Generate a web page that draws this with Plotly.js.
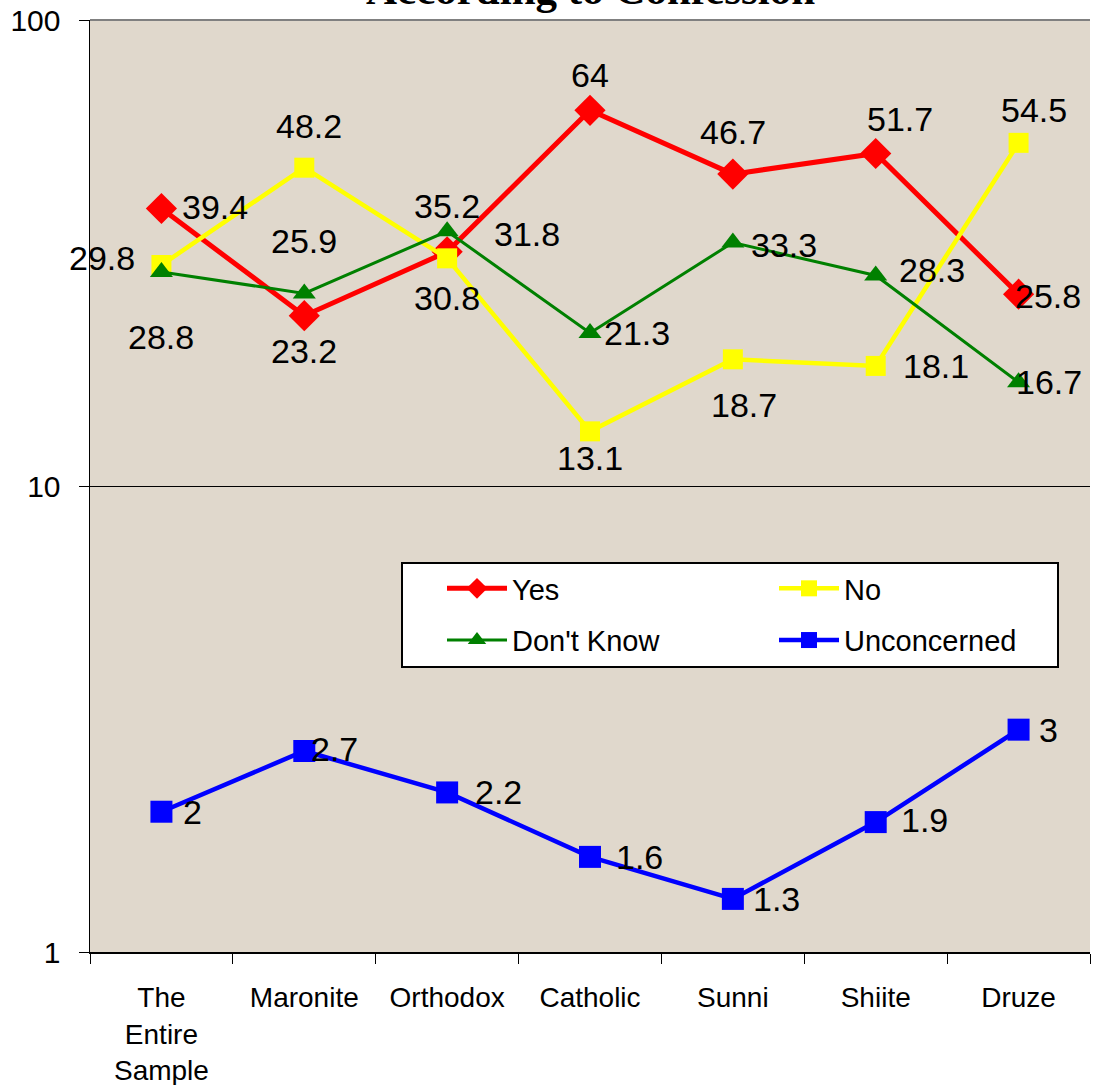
<!DOCTYPE html>
<html>
<head>
<meta charset="utf-8">
<script src="https://cdn.plot.ly/plotly-3.0.1.min.js"></script>
<style>html,body{margin:0;padding:0;background:#fff;}#chart{width:1094px;height:1085px;}</style>
</head>
<body>
<div id="chart"></div>
<script>
const categories = ["The<br>Entire<br>Sample", "Maronite", "Orthodox", "Catholic", "Sunni", "Shiite", "Druze"];
const yesValues = [39.4, 23.2, 31.8, 64, 46.7, 51.7, 25.8];
const noValues = [29.8, 48.2, 30.8, 13.1, 18.7, 18.1, 54.5];
const dontKnowValues = [28.8, 25.9, 35.2, 21.3, 33.3, 28.3, 16.7];
const unconcernedValues = [2, 2.7, 2.2, 1.6, 1.3, 1.9, 3];
const seriesNames = ["Yes", "No", "Don't Know", "Unconcerned"];
const yTicks = [1, 10, 100];

// label offsets in pixels [dx, dy] (dy positive = downward), per point
const yesOff = [[54, -2], [0, 35], [80, -18], [0, -35], [0, -42], [24, -35], [29, 2]];
const noOff = [[-59, -7], [5, -42], [0, 40], [0, 27], [11, 46], [60, 0], [15, -33]];
const dkOff = [[0, 65], [0, -52], [0, -25], [47, 0], [51, 2], [56, -5], [30, 0]];
const ucOff = [[31, 0], [30, -2], [51, 0], [49, 0], [44, 0], [49, -2], [30, 0]];

const labelFont = {family: "Liberation Sans, Arial, sans-serif", size: 34, color: "#000"};

function mk(name, vals, color, lw, sym, msize, legendId) {
  return {
    type: "scatter", mode: "lines+markers", name: name,
    x: categories, y: vals,
    legend: legendId, legendgroup: name,
    line: {color: color, width: lw},
    marker: {color: color, symbol: sym, size: msize}
  };
}

const traces = [
  mk(seriesNames[0], yesValues, "#ff0000", 5, "diamond", 24, "legend"),
  mk(seriesNames[1], noValues, "#ffff00", 4.5, "square", 20, "legend2"),
  mk(seriesNames[2], dontKnowValues, "#008000", 3, "triangle-up", 20, "legend"),
  mk(seriesNames[3], unconcernedValues, "#0000ff", 4.5, "square", 22, "legend2")
];

const annotations = [];
function addLabels(vals, offs) {
  vals.forEach(function (v, i) {
    annotations.push({
      xref: "x", yref: "y", x: categories[i], y: Math.log10(v),
      text: String(v), showarrow: false, font: labelFont,
      xanchor: "center", yanchor: "middle",
      xshift: offs[i][0], yshift: -offs[i][1]
    });
  });
}
addLabels(yesValues, yesOff);
addLabels(noValues, noOff);
addLabels(dontKnowValues, dkOff);
addLabels(unconcernedValues, ucOff);

annotations.push({
  text: "<b>According to Confession</b>",
  xref: "paper", yref: "paper", x: 0.5, y: 1, xanchor: "center", yanchor: "bottom",
  yshift: 5, showarrow: false,
  font: {family: "Liberation Serif, Times New Roman, serif", size: 43, color: "#000"}
});

const legendCommon = {
  orientation: "v", xanchor: "left", yanchor: "top",
  bgcolor: "rgba(0,0,0,0)", borderwidth: 0,
  font: {size: 29, family: "Liberation Sans, Arial, sans-serif"},
  itemwidth: 60, tracegroupgap: 11, traceorder: "grouped"
};

const layout = {
  width: 1094, height: 1085,
  margin: {l: 90, r: 4, t: 20, b: 133},
  paper_bgcolor: "#ffffff",
  plot_bgcolor: "#e0d8cc",
  showlegend: true,
  font: {family: "Liberation Sans, Arial, sans-serif", color: "#000"},
  xaxis: {
    type: "category",
    showline: true, linecolor: "#000", linewidth: 1.5,
    ticks: "outside", ticklen: 10, tickcolor: "#000", tickson: "boundaries",
    ticklabelstandoff: 20,
    showgrid: false, zeroline: false,
    tickfont: {size: 28, family: "Liberation Sans, Arial, sans-serif"},
    range: [-0.5, 6.5]
  },
  yaxis: {
    type: "log", range: [0, 2],
    tickvals: yTicks, ticktext: yTicks.map(String),
    showline: true, linecolor: "#000", linewidth: 1.5, mirror: false,
    ticks: "outside", ticklen: 10, tickcolor: "#000",
    ticklabelstandoff: 12,
    showgrid: true, gridcolor: "#000", gridwidth: 1,
    tickfont: {size: 30, family: "Liberation Sans, Arial, sans-serif"},
    zeroline: false
  },
  legend: Object.assign({}, legendCommon, {x: 0.352, y: 0.4174}),
  legend2: Object.assign({}, legendCommon, {x: 0.684, y: 0.4174}),
  shapes: [
    {type: "rect", xref: "paper", yref: "paper", x0: 0.312, x1: 0.968, y0: 0.3058, y1: 0.4174,
     fillcolor: "#ffffff", line: {color: "#000", width: 2}, layer: "below"},
    {type: "line", xref: "paper", yref: "paper", x0: 0, x1: 1, y0: 1, y1: 1,
     line: {color: "#808080", width: 2}, layer: "above"}
  ],
  annotations: annotations
};

Plotly.newPlot("chart", traces, layout, {displayModeBar: false, staticPlot: true});
</script>
</body>
</html>
